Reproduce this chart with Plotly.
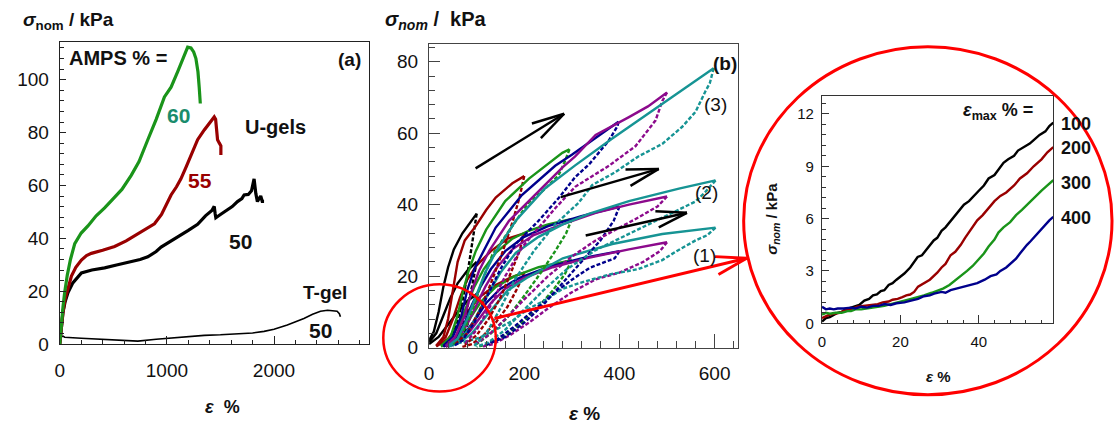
import plotly.graph_objects as go

W, H = 1114, 434

# ---------------- panel (a): tensile curves, AMPS % series ----------------
ugel60 = [(0, 0), (15, 8), (30, 14), (46, 19.5), (70, 26), (100, 32), (140, 38), (200, 42),
          (263, 44.7), (340, 48.5), (419, 51.5), (500, 55), (580, 58.5), (667, 63.8), (740, 69),
          (822, 77.3), (900, 85), (977, 93.5), (1039, 97.2), (1100, 103), (1160, 109),
          (1194, 112.3), (1225, 112), (1250, 110.5), (1271, 108), (1290, 103), (1302, 97), (1312, 91)]
ugel55 = [(0, 0), (15, 7), (30, 12), (50, 17), (80, 22), (109, 25.7), (150, 29), (202, 31.8),
          (250, 33.5), (295, 34.3), (400, 35.5), (512, 36.9), (620, 39), (728, 41.6), (800, 43.5),
          (884, 45.5), (950, 49), (1000, 53), (1039, 56.4), (1090, 59.5), (1131, 62.5), (1180, 67),
          (1230, 72), (1287, 77.3), (1349, 81), (1400, 83.5), (1442, 85.9), (1455, 85),
          (1465, 80), (1473, 77.3), (1490, 76), (1504, 75), (1504, 71.5)]
ugel50 = [(0, 0), (15, 7), (30, 12), (50, 16), (77, 19.5), (120, 23), (202, 26.9), (300, 28),
          (419, 28.8), (540, 30), (667, 31.2), (750, 32), (822, 33), (900, 35), (946, 36.7),
          (1020, 38.5), (1101, 40.4), (1200, 43), (1287, 45.3), (1360, 48.5), (1420, 50.5),
          (1442, 52.1), (1450, 49.5), (1457, 47.8), (1500, 49), (1566, 50.9), (1610, 52),
          (1659, 53.9), (1700, 55), (1721, 56.4), (1760, 56.6), (1790, 58), (1814, 62.5),
          (1830, 57), (1845, 53.9), (1860, 55), (1876, 56), (1890, 54), (1907, 54)]
tgel50 = [(0, 0), (10, 2.6), (30, 3), (46, 2.6), (200, 2.2), (419, 1.7), (600, 1.3), (729, 1.1),
          (900, 1.8), (1039, 2.3), (1200, 2.9), (1349, 3.3), (1500, 3.5), (1659, 3.8), (1800, 4.2),
          (1907, 4.8), (2000, 5.6), (2124, 7.2), (2200, 8.4), (2279, 9.7), (2360, 11.3),
          (2434, 12.4), (2500, 12.8), (2589, 12.4), (2610, 11.5), (2620, 10.3)]

# ---------------- panel (b): cyclic loading (solid) / unloading (dashed) ----------------
eps_max_levels = [100, 200, 300, 400, 500, 600]

# gel (3)
set3_load_100 = [(0, 2), (10, 4.5), (20, 10), (30, 17), (40, 22.5), (52, 27.5), (70, 32), (90, 35.5), (100, 37.5)]
set3_load_200 = [(15, 0.5), (30, 3), (40, 8), (50, 16), (60, 24), (75, 30), (98, 34), (120, 38.5), (140, 42), (175, 46), (200, 48)]
set3_load_300 = [(25, 0.5), (45, 3), (60, 9), (70, 15), (82, 21), (98, 27), (120, 33), (160, 41), (210, 47.3), (250, 51.5), (280, 54.5), (295, 55.5)]
set3_load_400 = [(30, 0.5), (50, 3), (68, 9), (80, 16), (95, 22), (115, 27), (140, 33.6), (195, 42.7), (265, 50.9), (300, 54), (350, 58.6), (398, 63.2)]
set3_load_500 = [(35, 0.5), (55, 3), (75, 9), (90, 16), (105, 21.5), (126, 27), (168, 35.5), (223, 42.7), (281, 50.5), (307, 53.5), (350, 59.5), (420, 64.5), (460, 67.5), (500, 71.4)]
set3_load_600 = [(40, 0.5), (60, 2.5), (80, 8), (100, 15), (118, 21), (140, 26.8), (182, 35.5), (244, 44.6), (307, 51), (385, 58.5), (490, 68.2), (598, 78.2)]
set3_unload_100 = [(100, 37.5), (95, 33), (88, 27), (80, 20), (70, 13), (58, 6.5), (45, 2.5), (30, 0.5)]
set3_unload_200 = [(200, 48), (190, 42), (175, 35), (155, 27), (130, 18), (105, 10), (80, 4), (55, 1)]
set3_unload_300 = [(295, 55.5), (285, 52), (272, 48.2), (240, 44), (209, 40.5), (168, 32.7), (133, 26), (110, 18), (90, 10), (70, 4), (50, 1)]
set3_unload_400 = [(398, 63.2), (396, 62), (378, 58), (337, 51.4), (307, 47.7), (272, 41.8), (230, 35.5), (182, 29), (150, 22), (120, 14), (95, 7), (70, 2), (50, 0.3)]
set3_unload_500 = [(500, 71.4), (490, 69), (476, 63.6), (434, 56.4), (378, 50.9), (307, 45), (265, 39), (230, 33.6), (195, 28), (160, 20), (130, 12), (100, 5), (75, 1)]
set3_unload_600 = [(598, 78.2), (590, 74), (581, 71.8), (560, 66), (532, 61.8), (490, 57), (441, 53.6), (390, 49), (343, 45.5), (314, 40.5), (265, 34.5), (220, 27), (180, 19), (150, 11), (120, 4), (95, 0.5)]

# gel (2)
set2_load_100 = [(0, 1.5), (15, 4), (30, 9), (45, 14), (60, 18), (80, 21.5), (100, 24)]
set2_load_200 = [(15, 0.5), (35, 3), (50, 8), (65, 14), (80, 19), (100, 23), (130, 27), (165, 30.5), (200, 32)]
set2_load_300 = [(25, 0.5), (45, 2.5), (65, 7), (80, 12), (95, 17), (115, 22), (140, 26.5), (175, 30.5), (209, 32.7), (250, 34.5), (300, 36)]
set2_load_400 = [(30, 0.3), (55, 2.5), (75, 7), (90, 12), (108, 17), (130, 22), (160, 27), (200, 31), (250, 34), (320, 36.8), (400, 39.5)]
set2_load_500 = [(35, 0.3), (60, 2.5), (80, 6.5), (100, 12), (118, 17), (140, 22), (175, 27.5), (220, 31.5), (280, 34.5), (350, 37.7), (420, 40), (500, 42.3)]
set2_load_600 = [(40, 0.3), (65, 2), (88, 6), (108, 11), (128, 16), (150, 21), (182, 26.5), (230, 31), (281, 34.5), (337, 37.5), (420, 41), (525, 44.5), (602, 46.8)]
set2_unload_100 = [(100, 24), (90, 17), (78, 10), (65, 5), (50, 1.5), (35, 0.3)]
set2_unload_200 = [(200, 32), (190, 27), (172, 21), (150, 14), (125, 8), (100, 3.5), (75, 0.8)]
set2_unload_300 = [(300, 36), (288, 32), (265, 27), (235, 21), (200, 14.5), (165, 8.5), (130, 4), (100, 1)]
set2_unload_400 = [(400, 39.5), (388, 35.5), (360, 30), (320, 24), (280, 18), (240, 12), (200, 7), (160, 3), (120, 0.8)]
set2_unload_500 = [(500, 42.3), (480, 39.5), (441, 36.5), (400, 33.5), (350, 30), (300, 25.5), (250, 20), (200, 13.5), (160, 8), (125, 3.5), (95, 0.8)]
set2_unload_600 = [(602, 46.8), (580, 43.5), (560, 40.9), (490, 36.4), (420, 31.8), (350, 27.3), (290, 22), (240, 16), (195, 10), (160, 5), (125, 1.5), (100, 0.3)]

# gel (1)
set1_load_100 = [(0, 1), (20, 3), (40, 6.5), (60, 10), (80, 13), (100, 15)]
set1_load_200 = [(15, 0.3), (40, 2.5), (60, 6), (80, 10), (105, 14), (140, 17.5), (170, 19.5), (200, 21)]
set1_load_300 = [(25, 0.3), (50, 2), (70, 5), (90, 9), (110, 13), (140, 17), (180, 20), (230, 22.5), (300, 24.5)]
set1_load_400 = [(30, 0.3), (55, 1.8), (78, 4.5), (100, 8.5), (120, 12.5), (150, 16.5), (190, 19.5), (250, 22.5), (320, 25), (400, 27)]
set1_load_500 = [(35, 0.2), (60, 1.5), (85, 4.5), (108, 8.5), (130, 12.5), (160, 16.5), (200, 19.5), (260, 22.5), (330, 25), (420, 27.5), (500, 29.5)]
set1_load_600 = [(40, 0.2), (65, 1.5), (90, 4), (115, 8), (138, 12), (165, 16), (205, 19.5), (281, 25), (385, 29), (490, 31.8), (602, 33.6)]
set1_unload_100 = [(100, 15), (90, 10), (78, 5.5), (62, 2), (45, 0.3)]
set1_unload_200 = [(200, 21), (185, 16.5), (165, 11.5), (140, 7), (115, 3.5), (90, 1), (70, 0.2)]
set1_unload_300 = [(300, 24.5), (285, 20.5), (260, 16), (230, 11.5), (195, 7), (160, 3.5), (125, 1), (100, 0.2)]
set1_unload_400 = [(400, 27), (390, 25), (370, 24), (337, 22.3), (300, 19), (260, 15), (220, 10.5), (180, 6), (145, 2.5), (115, 0.5)]
set1_unload_500 = [(500, 29.5), (485, 27), (450, 24), (400, 21), (350, 19.1), (300, 15.5), (250, 11), (210, 7), (170, 3.5), (135, 1), (110, 0.2)]
set1_unload_600 = [(602, 33.6), (585, 31.5), (560, 30), (520, 27), (490, 24.5), (440, 22), (380, 20.5), (314, 18), (281, 16.5), (240, 13), (209, 10.9), (175, 7.5), (140, 5), (105, 2.7), (70, 1.5), (40, 0.8)]

# ---------------- panel (c): low-strain region of reloading ----------------
inset_100 = [(0, 0.1), (1, 0.3), (2, 0.35), (3, 0.5), (4, 0.6), (5, 0.65), (6, 0.8), (7.4, 0.9), (8.5, 1.0),
             (9.5, 1.05), (10.8, 1.3), (12, 1.4), (13, 1.6), (14, 1.65), (15, 1.85), (15.9, 1.9), (17, 2.2),
             (18, 2.3), (19, 2.5), (20.1, 2.7), (21, 2.85), (22.5, 3.2), (23.5, 3.5), (24.4, 3.8), (25.5, 3.9),
             (26.5, 4.2), (27.7, 4.5), (28.5, 4.75), (29.4, 4.9), (30.5, 5.3), (31.5, 5.5), (33, 5.9),
             (34.5, 6.3), (36.2, 6.8), (37.5, 7.0), (39, 7.4), (40, 7.6), (41.3, 7.9), (42.5, 8.3), (44, 8.5),
             (45, 8.8), (46.3, 9.2), (47.5, 9.4), (49, 9.6), (50, 9.9), (51.5, 10.1), (53, 10.3), (54, 10.5),
             (55.5, 10.8), (57, 11.0), (58, 11.3), (59, 11.5)]
inset_200 = [(0, 0.3), (1.5, 0.45), (3, 0.55), (4.5, 0.6), (6, 0.75), (7.4, 0.8), (9, 0.95), (11, 1.0),
             (12.5, 1.05), (14.2, 1.1), (15.5, 1.2), (17, 1.25), (18, 1.35), (19.3, 1.4), (20.5, 1.5),
             (21.5, 1.6), (22.5, 1.65), (23.5, 1.8), (24.5, 2.1), (26, 2.3), (27.5, 2.5), (29.4, 2.9),
             (30.5, 3.2), (31.5, 3.4), (32.8, 3.9), (34, 4.1), (35.4, 4.5), (36.5, 4.9), (38, 5.4),
             (39.6, 5.9), (41, 6.2), (42.5, 6.6), (44, 7.0), (45.5, 7.3), (47, 7.5), (49, 7.9), (50.5, 8.3),
             (52.3, 8.6), (54, 9.0), (56, 9.4), (57.5, 9.8), (59, 10.1)]
inset_300 = [(0, 0.5), (1, 0.6), (2, 0.55), (3.5, 0.6), (5, 0.6), (6.5, 0.7), (7.4, 0.7), (8.5, 0.8), (10, 0.8),
             (11.5, 0.85), (13, 0.9), (14.5, 0.95), (15.9, 1.0), (17.5, 1.1), (19, 1.2), (21, 1.3), (22.7, 1.4),
             (24.5, 1.5), (26, 1.6), (28, 1.75), (29.4, 1.85), (31, 2.0), (32.5, 2.2), (34, 2.45), (35.4, 2.7),
             (37, 3.0), (38.5, 3.3), (40, 3.7), (41.3, 4.0), (42.5, 4.4), (44, 4.8), (45, 5.2), (46.3, 5.5),
             (48, 5.8), (49.5, 6.2), (51, 6.5), (52.3, 6.8), (54, 7.2), (56, 7.6), (57.5, 7.9), (59, 8.2)]
inset_400 = [(0, 0.95), (1, 0.8), (2, 0.85), (3, 0.8), (4, 0.85), (5.5, 0.85), (7.4, 0.9), (8.5, 0.85),
             (10, 0.95), (11.5, 0.9), (13, 1.0), (14.5, 1.0), (15.9, 1.1), (17.5, 1.05), (19, 1.15), (21, 1.2),
             (22.7, 1.3), (24.5, 1.4), (26, 1.55), (27.5, 1.6), (28.6, 1.7), (30.5, 1.8), (31.5, 1.75),
             (32.8, 1.9), (34.5, 2.0), (36, 2.1), (38, 2.2), (39.6, 2.3), (41.5, 2.5), (43, 2.7), (44.5, 2.8),
             (45.5, 3.0), (47, 3.2), (48, 3.4), (49.5, 3.7), (50.5, 4.0), (51.5, 4.3), (52.3, 4.5), (53.2, 4.7),
             (54, 4.9), (55.5, 5.3), (56.5, 5.5), (58, 5.9), (59, 6.1)]
inset_labels = ["100", "200", "300", "400"]

# ---------------- styling ----------------
FONT = "Liberation Sans, Arial, sans-serif"
C_BLACK, C_RED, C_GREEN = "#000000", "#990000", "#1a941a"
C_NAVY, C_PURPLE, C_TEAL = "#00008c", "#8c0a8c", "#169494"
cycle_colors = [C_BLACK, C_RED, C_GREEN, C_NAVY, C_PURPLE, C_TEAL]


def px(x):
    return x / W


def py(y):
    return 1 - y / H


def xy(pairs):
    return [p[0] for p in pairs], [p[1] for p in pairs]


fig = go.Figure()


def add_line(pairs, color, width, axes, dash="solid"):
    xs, ys = xy(pairs)
    fig.add_trace(go.Scatter(x=xs, y=ys, mode="lines", xaxis=axes[0], yaxis=axes[1],
                             line=dict(color=color, width=width, dash=dash),
                             showlegend=False, hoverinfo="skip"))


# panel (a)
add_line(tgel50, C_BLACK, 1.6, ("x", "y"))
add_line(ugel50, C_BLACK, 3.2, ("x", "y"))
add_line(ugel55, C_RED, 3.2, ("x", "y"))
add_line(ugel60, C_GREEN, 3.2, ("x", "y"))

# panel (b)
gel_sets = [
    ([set1_load_100, set1_load_200, set1_load_300, set1_load_400, set1_load_500, set1_load_600],
     [set1_unload_100, set1_unload_200, set1_unload_300, set1_unload_400, set1_unload_500, set1_unload_600]),
    ([set2_load_100, set2_load_200, set2_load_300, set2_load_400, set2_load_500, set2_load_600],
     [set2_unload_100, set2_unload_200, set2_unload_300, set2_unload_400, set2_unload_500, set2_unload_600]),
    ([set3_load_100, set3_load_200, set3_load_300, set3_load_400, set3_load_500, set3_load_600],
     [set3_unload_100, set3_unload_200, set3_unload_300, set3_unload_400, set3_unload_500, set3_unload_600]),
]
for loads, unloads in gel_sets:
    for i, lvl in enumerate(eps_max_levels):
        add_line(unloads[i], cycle_colors[i], 2.4, ("x2", "y2"), dash="4px,2px")
        add_line(loads[i], cycle_colors[i], 2.4, ("x2", "y2"))

# panel (c)
for pairs, col in zip([inset_100, inset_200, inset_300, inset_400], [C_BLACK, C_RED, C_GREEN, C_NAVY]):
    add_line(pairs, col, 2.4, ("x3", "y3"))


def axis(domain, rng, dtick, mdtick, anchor, fsize, tlen, mlen, standoff, linecolor="#222"):
    return dict(domain=domain, range=rng, dtick=dtick, tick0=0, anchor=anchor,
                showline=True, mirror=True, linecolor=linecolor, linewidth=1.2,
                ticks="inside", ticklen=tlen, tickwidth=1.2, tickcolor=linecolor,
                minor=dict(ticks="inside", ticklen=mlen, dtick=mdtick, tickwidth=1.2, tickcolor=linecolor),
                showgrid=False, zeroline=False, ticklabelstandoff=standoff,
                tickfont=dict(family=FONT, size=fsize, color="#111"))


fig.update_layout(
    width=W, height=H, margin=dict(l=0, r=0, t=0, b=0), autosize=False,
    paper_bgcolor="white", plot_bgcolor="white",
    xaxis=axis([px(55), px(366)], [0, 2890], 1000, 200, "y", 19, 8, 4, 9),
    yaxis=axis([py(353), py(43)], [0, 114.3], 20, 4, "x", 19, 6, 4, 6),
    xaxis2=axis([px(426), px(736.7)], [0, 650], 200, 40, "y2", 19, 14, 7, 8, "#444"),
    yaxis2=axis([py(356.7), py(45)], [0, 85], 20, 4, "x2", 19, 11, 6, 6, "#444"),
    xaxis3=axis([px(820.7), px(1053)], [0, 59], 20, 4, "y3", 15, 8, 3, 5, "#333"),
    yaxis3=axis([py(331.7), py(99)], [0, 13], 3, 0.6, "x3", 15, 7, 4, 4, "#333"),
)

ann = []


def text(x, y, s, size, color="#111", xanchor="center", yanchor="middle", angle=0):
    ann.append(dict(x=px(x), y=py(y), xref="paper", yref="paper", text=s, showarrow=False,
                    xanchor=xanchor, yanchor=yanchor, textangle=angle,
                    font=dict(family=FONT, size=size, color=color)))


# axis titles
text(16, 22, "<b><i>σ</i><sub>nom</sub> / kPa</b>", 19, xanchor="left")
text(218, 418, "<b><i>ε</i>  %</b>", 18)
text(380, 21, "<b><i>σ<sub>nom</sub></i> /  kPa</b>", 20, xanchor="left")
text(582, 424, "<b><i>ε</i> %</b>", 19)
text(771, 225, "<b><i>σ<sub>nom</sub></i> / kPa</b>", 15, angle=-90)
text(938, 386, "<b><i>ε</i> %</b>", 15)

# panel (a) labels
text(62, 60, "<b>AMPS % =</b>", 20, xanchor="left")
text(346, 61, "<b>(a)</b>", 19)
text(174, 119, "<b>60</b>", 21, color="#1a8c6c")
text(196, 185, "<b>55</b>", 21, color=C_RED)
text(272, 130, "<b>U-gels</b>", 20)
text(237, 248, "<b>50</b>", 21)
text(321, 300, "<b>T-gel</b>", 19)
text(317, 339, "<b>50</b>", 21)

# panel (b) labels
text(723, 65, "<b>(b)</b>", 19)
text(714, 107, "(3)", 19)
text(705, 198, "(2)", 19)
text(703, 262, "(1)", 19)

# panel (c) labels
text(997, 114, "<b><i>ε</i><sub>max</sub> % =</b>", 18)
for lab, yy in zip(inset_labels, [127, 152, 188, 224]):
    text(1076, yy, "<b>" + lab + "</b>", 18)

fig.update_layout(annotations=ann)

shapes = []
# zoom circles
shapes.append(dict(type="circle", xref="paper", yref="paper", x0=px(742), x1=px(1112), y0=py(405), y1=py(48),
                   line=dict(color="#ff0000", width=3)))
shapes.append(dict(type="circle", xref="paper", yref="paper", x0=px(380), x1=px(493), y0=py(401.7), y1=py(291.7),
                   line=dict(color="#ff0000", width=2.5)))


def seg(x0, y0, x1, y1, color, width):
    shapes.append(dict(type="line", xref="paper", yref="paper", x0=px(x0), y0=py(y0), x1=px(x1), y1=py(y1),
                       line=dict(color=color, width=width)))


# red pointer to the inset
seg(491.7, 326.7, 745, 265, "#ff0000", 3)
seg(713.3, 263.3, 745, 265, "#ff0000", 3)
seg(716.7, 281.7, 745, 265, "#ff0000", 3)

# black direction arrows (open heads)
for (t0, t1, b1, b2) in [((472.7, 172.7), (561.7, 116.7), (529.3, 126.7), (538.3, 141.7)),
                         ((558.3, 202.3), (656.7, 173.3), (623.3, 174), (628.3, 190.7)),
                         ((583.3, 241.7), (685, 218.3), (653.3, 216.7), (656.7, 233.3))]:
    seg(t0[0], t0[1], t1[0], t1[1], "#000", 2.5)
    seg(b1[0], b1[1], t1[0], t1[1], "#000", 2.5)
    seg(b2[0], b2[1], t1[0], t1[1], "#000", 2.5)

fig.update_layout(shapes=shapes)
fig.write_html("out.html")
